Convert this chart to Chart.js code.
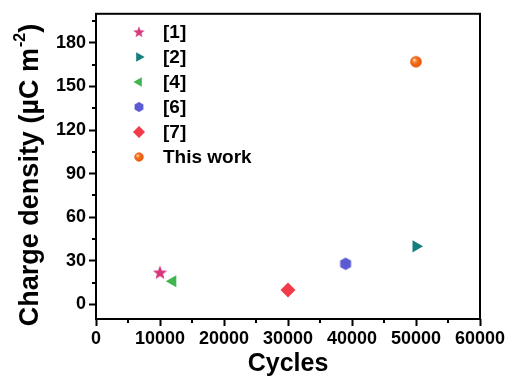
<!DOCTYPE html>
<html>
<head>
<meta charset="utf-8">
<script src="https://cdn.jsdelivr.net/npm/chart.js@4.4.1/dist/chart.umd.min.js"></script>
<style>
  html, body { margin: 0; padding: 0; background: #fff; }
  #wrap { width: 510px; height: 383px; }
</style>
</head>
<body>
<div id="wrap"><canvas id="chart" width="510" height="383"></canvas></div>
<script>
// literature comparison: cycles vs. charge density
const labels = ["[1]", "[2]", "[4]", "[6]", "[7]", "This work"];
const cycles = [10000, 50000, 12000, 39000, 30000, 50000];
const density = [22, 40, 16, 28, 10, 167];
const colors = ["#d63a7c", "#137f7c", "#3fb54f", "#5a5ad2", "#f23b4a", "#f2600f"];

const xTicks = [0, 10000, 20000, 30000, 40000, 50000, 60000];
const yTicks = [0, 30, 60, 90, 120, 150, 180];

const FONT = "'Liberation Sans', Arial, sans-serif";

function makeCanvas(size, draw) {
  const c = document.createElement("canvas");
  c.width = size;
  c.height = size;
  draw(c.getContext("2d"), size / 2);
  return c;
}

const starIcon = makeCanvas(16, (ctx, c) => {
  ctx.fillStyle = colors[0];
  ctx.beginPath();
  for (let i = 0; i < 10; i++) {
    const r = i % 2 === 0 ? 7.5 : 3.2;
    const a = -Math.PI / 2 + i * Math.PI / 5;
    ctx.lineTo(c + r * Math.cos(a), c + 0.5 + r * Math.sin(a));
  }
  ctx.closePath();
  ctx.fill();
});

const hexIcon = makeCanvas(14, (ctx, c) => {
  ctx.fillStyle = colors[3];
  ctx.beginPath();
  for (let i = 0; i < 6; i++) {
    const a = -Math.PI / 2 + i * Math.PI / 3;
    ctx.lineTo(c + 6.3 * Math.cos(a), c + 6.3 * Math.sin(a));
  }
  ctx.closePath();
  ctx.fill();
});

const ballIcon = makeCanvas(14, (ctx, c) => {
  const g = ctx.createRadialGradient(c - 2, c - 2, 0.5, c, c, 6);
  g.addColorStop(0, "#ffd9b8");
  g.addColorStop(0.35, "#f7741f");
  g.addColorStop(1, "#e85008");
  ctx.fillStyle = g;
  ctx.beginPath();
  ctx.arc(c, c, 5.8, 0, Math.PI * 2);
  ctx.fill();
});

const styles = [
  { pointStyle: starIcon, rotation: 0, radius: 8 },
  { pointStyle: "triangle", rotation: 90, radius: 7 },
  { pointStyle: "triangle", rotation: -90, radius: 7 },
  { pointStyle: hexIcon, rotation: 0, radius: 7 },
  { pointStyle: "rectRot", rotation: 0, radius: 7.5 },
  { pointStyle: ballIcon, rotation: 0, radius: 7 }
];

const datasets = labels.map((label, i) => ({
  label,
  data: [{ x: cycles[i], y: density[i] }],
  backgroundColor: colors[i],
  borderColor: colors[i],
  borderWidth: 0,
  pointStyle: styles[i].pointStyle,
  rotation: styles[i].rotation,
  pointRadius: styles[i].radius,
  pointHoverRadius: styles[i].radius
}));

// frame, minor ticks, in-plot legend and y title with superscript
const decorations = {
  id: "decorations",
  afterDraw(chart) {
    const { ctx, chartArea: a, scales } = chart;
    ctx.save();
    ctx.strokeStyle = "#000";
    ctx.lineWidth = 2;

    // minor ticks
    ctx.beginPath();
    for (let v = 5000; v < 60000; v += 10000) {
      const px = Math.round(scales.x.getPixelForValue(v));
      ctx.moveTo(px, a.bottom);
      ctx.lineTo(px, a.bottom + 4);
    }
    for (let v = 15; v < 200; v += 30) {
      const py = Math.round(scales.y.getPixelForValue(v));
      ctx.moveTo(a.left, py);
      ctx.lineTo(a.left - 4, py);
    }
    ctx.stroke();

    ctx.strokeRect(a.left, a.top, a.right - a.left, a.bottom - a.top);

    // legend (markers a bit smaller than in the plot)
    ctx.font = "bold 19px " + FONT;
    ctx.textBaseline = "middle";
    ctx.textAlign = "left";
    chart.data.datasets.forEach((ds, i) => {
      const y = 32 + i * 25;
      ctx.save();
      ctx.translate(139, y);
      ctx.scale(0.8, 0.8);
      ctx.fillStyle = ds.backgroundColor;
      ctx.strokeStyle = ds.borderColor;
      Chart.helpers.drawPoint(ctx, {
        pointStyle: ds.pointStyle,
        rotation: ds.rotation,
        radius: ds.pointRadius,
        borderWidth: 0
      }, 0, 0);
      ctx.restore();
      ctx.fillStyle = "#000";
      ctx.fillText(ds.label, 163, y + 1);
    });

    // y axis title
    ctx.fillStyle = "#000";
    ctx.translate(31, 175);
    ctx.rotate(-Math.PI / 2);
    const main = "Charge density (\u00b5C m";
    ctx.font = "bold 27px " + FONT;
    const w1 = ctx.measureText(main).width;
    ctx.font = "bold 16px " + FONT;
    const sup = "-2";
    const w2 = ctx.measureText(sup).width;
    ctx.font = "bold 27px " + FONT;
    const w3 = ctx.measureText(")").width;
    const x0 = -(w1 + w2 + w3 + 1) / 2;
    ctx.fillText(main, x0, 0);
    ctx.font = "bold 16px " + FONT;
    ctx.fillText(sup, x0 + w1 + 1, -10);
    ctx.font = "bold 27px " + FONT;
    ctx.fillText(")", x0 + w1 + w2 + 1, 0);
    ctx.restore();
  }
};

new Chart(document.getElementById("chart"), {
  type: "scatter",
  data: { datasets },
  options: {
    responsive: false,
    animation: false,
    layout: { padding: { left: 0, top: 11, right: 30, bottom: 0 } },
    plugins: {
      legend: { display: false },
      tooltip: { enabled: false }
    },
    scales: {
      x: {
        type: "linear",
        min: 0,
        max: 60000,
        afterBuildTicks: (s) => { s.ticks = xTicks.map(v => ({ value: v })); },
        afterFit: (s) => { s.height = 64; },
        border: { display: false },
        grid: { drawOnChartArea: false, tickLength: 7, tickColor: "#000", tickWidth: 2 },
        ticks: {
          color: "#000",
          padding: 2,
          maxRotation: 0,
          font: { family: FONT, size: 18, weight: "bold" },
          callback: (v) => String(v)
        },
        title: {
          display: true,
          text: "Cycles",
          color: "#000",
          padding: { top: 3 },
          font: { family: FONT, size: 25, weight: "bold" }
        }
      },
      y: {
        type: "linear",
        min: -10,
        max: 200,
        afterBuildTicks: (s) => { s.ticks = yTicks.map(v => ({ value: v })); },
        afterFit: (s) => { s.width = 96; },
        border: { display: false },
        grid: { drawOnChartArea: false, tickLength: 7, tickColor: "#000", tickWidth: 2 },
        ticks: {
          color: "#000",
          padding: 3,
          font: { family: FONT, size: 18, weight: "bold" },
          callback: (v) => String(v)
        }
      }
    }
  },
  plugins: [decorations]
});
</script>
</body>
</html>
